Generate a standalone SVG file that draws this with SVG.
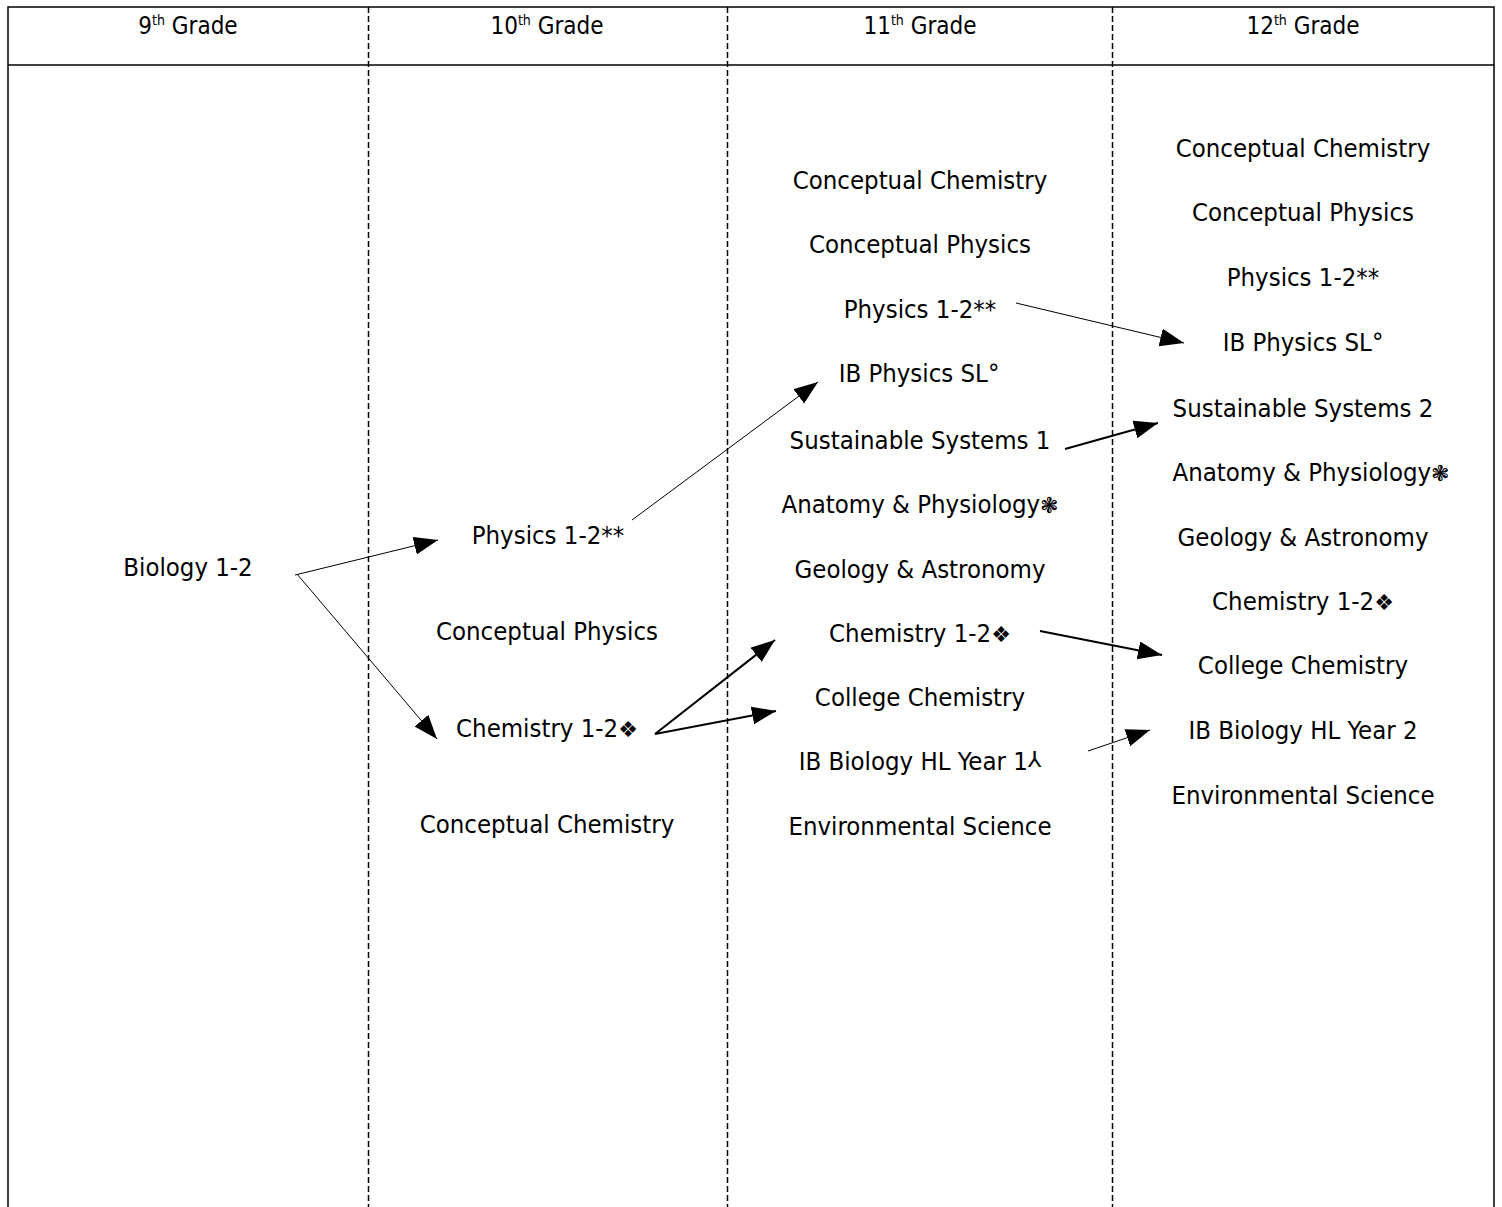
<svg xmlns="http://www.w3.org/2000/svg" width="1502" height="1207" viewBox="0 0 1502 1207">
<style>
text{font-family:"DejaVu Sans Condensed","DejaVu Sans",sans-serif;font-size:25.5px;fill:#000;text-anchor:middle}
.hd{font-size:24px}
.sup{font-size:14px}
.sym{font-family:"DejaVu Sans",sans-serif;font-size:22px}
.frame{fill:none;stroke:#000;stroke-width:1.5}
.dash{stroke:#000;stroke-width:1.5;stroke-dasharray:6 3}
.thin{stroke:#000;stroke-width:1;fill:none}
.thick{stroke:#000;stroke-width:2;fill:none}
</style>
<defs>
<marker id="ah" markerUnits="userSpaceOnUse" markerWidth="26" markerHeight="20" refX="24" refY="9" orient="auto" viewBox="0 0 26 20">
<path d="M0,0 L24,9 L0,18 z" fill="#000"/>
</marker>
</defs>
<rect width="1502" height="1207" fill="#fff"/>
<g id="table">
<path class="frame" d="M8,1207 V7 H1494 V1207"/>
<line class="frame" x1="8" y1="65" x2="1494" y2="65"/>
<line class="dash" x1="368.5" y1="7" x2="368.5" y2="1207"/>
<line class="dash" x1="727.5" y1="7" x2="727.5" y2="1207"/>
<line class="dash" x1="1112.5" y1="7" x2="1112.5" y2="1207"/>
</g>
<g id="headers">
<text class="hd" x="188" y="34">9<tspan class="sup" dy="-9">th</tspan><tspan dy="9"> Grade</tspan></text>
<text class="hd" x="547" y="34">10<tspan class="sup" dy="-9">th</tspan><tspan dy="9"> Grade</tspan></text>
<text class="hd" x="920" y="34">11<tspan class="sup" dy="-9">th</tspan><tspan dy="9"> Grade</tspan></text>
<text class="hd" x="1303" y="34">12<tspan class="sup" dy="-9">th</tspan><tspan dy="9"> Grade</tspan></text>
</g>
<g id="g9">
<text id="bio9" x="188" y="576">Biology 1-2</text>
</g>
<g id="g10">
<text id="phys10" x="548" y="544">Physics 1-2**</text>
<text id="cphys10" x="547" y="640">Conceptual Physics</text>
<text id="chem10" x="547" y="737">Chemistry 1-2<tspan class="sym">❖</tspan></text>
<text id="cchem10" x="547" y="833">Conceptual Chemistry</text>
</g>
<g id="g11">
<text x="920" y="189">Conceptual Chemistry</text>
<text x="920" y="253">Conceptual Physics</text>
<text x="920" y="318">Physics 1-2**</text>
<text x="919" y="382">IB Physics SL°</text>
<text x="920" y="449">Sustainable Systems 1</text>
<text x="920" y="513">Anatomy &amp; Physiology<tspan class="sym">❃</tspan></text>
<text x="920" y="578">Geology &amp; Astronomy</text>
<text x="920" y="642">Chemistry 1-2<tspan class="sym">❖</tspan></text>
<text x="920" y="706">College Chemistry</text>
<text x="920" y="770">IB Biology HL Year 1<tspan class="sym" dy="-3">⅄</tspan></text>
<text x="920" y="835">Environmental Science</text>
</g>
<g id="g12">
<text x="1303" y="157">Conceptual Chemistry</text>
<text x="1303" y="221">Conceptual Physics</text>
<text x="1303" y="286">Physics 1-2**</text>
<text x="1303" y="351">IB Physics SL°</text>
<text x="1303" y="417">Sustainable Systems 2</text>
<text x="1311" y="481">Anatomy &amp; Physiology<tspan class="sym">❃</tspan></text>
<text x="1303" y="546">Geology &amp; Astronomy</text>
<text x="1303" y="610">Chemistry 1-2<tspan class="sym">❖</tspan></text>
<text x="1303" y="674">College Chemistry</text>
<text x="1303" y="739">IB Biology HL Year 2</text>
<text x="1303" y="804">Environmental Science</text>
</g>
<g id="connectors">
<line class="thin" x1="295" y1="575" x2="438" y2="540" marker-end="url(#ah)"/>
<line class="thin" x1="297" y1="574" x2="437" y2="739" marker-end="url(#ah)"/>
<line class="thin" x1="632" y1="520" x2="818" y2="382" marker-end="url(#ah)"/>
<line class="thin" x1="1016" y1="303" x2="1184" y2="343" marker-end="url(#ah)"/>
<line class="thick" x1="1065" y1="449" x2="1158" y2="423" marker-end="url(#ah)"/>
<line class="thick" x1="655" y1="734" x2="775" y2="640" marker-end="url(#ah)"/>
<line class="thick" x1="655" y1="734" x2="776" y2="711" marker-end="url(#ah)"/>
<line class="thick" x1="1040" y1="631" x2="1162" y2="655" marker-end="url(#ah)"/>
<line class="thin" x1="1088" y1="751" x2="1150" y2="730" marker-end="url(#ah)"/>
</g>
</svg>
